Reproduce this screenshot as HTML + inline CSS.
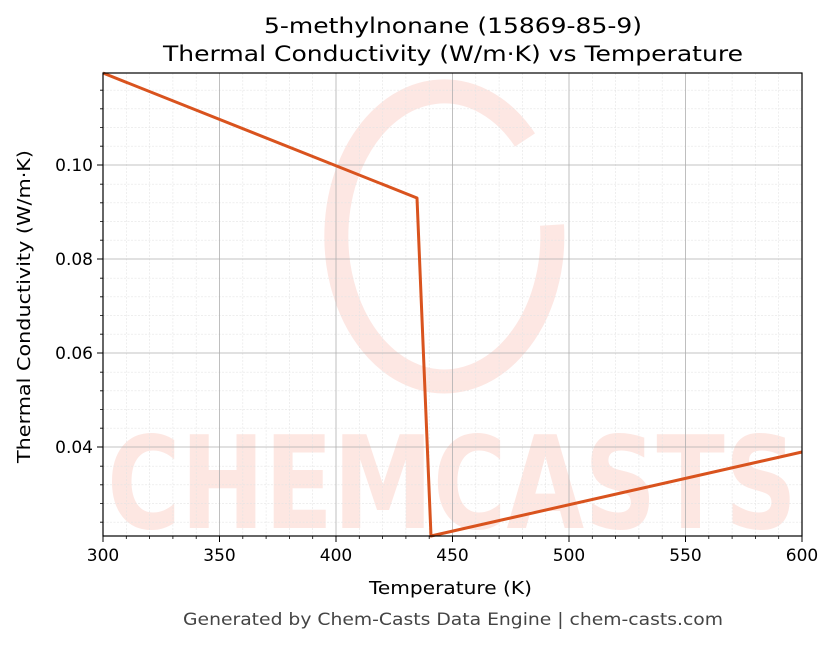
<!DOCTYPE html>
<html><head><style>
body{margin:0;background:#fff;}
svg text{font-family:"DejaVu Sans","Liberation Sans",sans-serif;}
</style></head><body>
<svg width="836" height="644" viewBox="0 0 836 644" xmlns="http://www.w3.org/2000/svg">
<rect width="836" height="644" fill="#fff"/>
<!-- watermark -->
<g opacity="0.85">
<path d="M 525 140 A 108 145 0 1 0 552 225" fill="none" stroke="#fde3de" stroke-width="24"/>
<text x="452" y="528" text-anchor="middle" font-size="128" font-weight="bold" fill="#fde3de" textLength="690" lengthAdjust="spacingAndGlyphs">CHEMCASTS</text>
</g>
<!-- minor grid -->
<g stroke="#e4e4e4" stroke-width="0.6" stroke-dasharray="2 1.5">
<path d="M126.3 73V536M149.6 73V536M172.9 73V536M196.2 73V536M242.8 73V536M266.1 73V536M289.4 73V536M312.7 73V536M359.3 73V536M382.6 73V536M405.9 73V536M429.2 73V536M475.8 73V536M499.1 73V536M522.4 73V536M545.7 73V536M592.3 73V536M615.6 73V536M638.9 73V536M662.2 73V536M708.8 73V536M732.1 73V536M755.4 73V536M778.7 73V536"/>
<path d="M103 90.2H802M103 108.8H802M103 127.6H802M103 146.2H802M103 184.2H802M103 202.8H802M103 221.6H802M103 240.2H802M103 278.2H802M103 296.8H802M103 315.6H802M103 334.2H802M103 372.2H802M103 390.8H802M103 409.6H802M103 428.2H802M103 466.2H802M103 484.8H802M103 503.6H802M103 522.2H802"/>
</g>
<!-- major grid -->
<g stroke="#b0b0b0" stroke-width="0.8">
<path d="M219.5 73V536M336 73V536M452.5 73V536M569 73V536M685.5 73V536"/>
<path d="M103 165H802M103 259H802M103 353H802M103 447H802"/>
</g>
<!-- data -->
<polyline points="103,73 417,198 431,536 802,452" fill="none" stroke="#d9531e" stroke-width="3" stroke-linejoin="round"/>
<!-- axes -->
<rect x="103" y="73" width="699" height="463" fill="none" stroke="#000" stroke-width="1.2"/>
<g stroke="#000" stroke-width="1">
<path d="M103 536v6M219.5 536v6M336 536v6M452.5 536v6M569 536v6M685.5 536v6M802 536v6"/>
<path d="M103 165h-6M103 259h-6M103 353h-6M103 447h-6"/>
</g>
<g stroke="#000" stroke-width="0.8">
<path d="M126.3 536v3M149.6 536v3M172.9 536v3M196.2 536v3M242.8 536v3M266.1 536v3M289.4 536v3M312.7 536v3M359.3 536v3M382.6 536v3M405.9 536v3M429.2 536v3M475.8 536v3M499.1 536v3M522.4 536v3M545.7 536v3M592.3 536v3M615.6 536v3M638.9 536v3M662.2 536v3M708.8 536v3M732.1 536v3M755.4 536v3M778.7 536v3"/>
<path d="M103 90.2h-3M103 108.8h-3M103 127.6h-3M103 146.2h-3M103 184.2h-3M103 202.8h-3M103 221.6h-3M103 240.2h-3M103 278.2h-3M103 296.8h-3M103 315.6h-3M103 334.2h-3M103 372.2h-3M103 390.8h-3M103 409.6h-3M103 428.2h-3M103 466.2h-3M103 484.8h-3M103 503.6h-3M103 522.2h-3"/>
</g>
<g font-size="17" fill="#000" text-anchor="middle">
<text x="103" y="561">300</text><text x="219.5" y="561">350</text><text x="336" y="561">400</text><text x="452.5" y="561">450</text><text x="569" y="561">500</text><text x="685.5" y="561">550</text><text x="802" y="561">600</text>
</g>
<g font-size="17" fill="#000" text-anchor="end">
<text x="93" y="171">0.10</text><text x="93" y="265">0.08</text><text x="93" y="359">0.06</text><text x="93" y="453">0.04</text>
</g>
<text x="369" y="594" font-size="18" textLength="163" lengthAdjust="spacingAndGlyphs">Temperature (K)</text>
<text transform="translate(30 463) rotate(-90)" font-size="18" textLength="313" lengthAdjust="spacingAndGlyphs">Thermal Conductivity (W/m·K)</text>
<text x="264" y="33" font-size="21.5" textLength="378" lengthAdjust="spacingAndGlyphs">5-methylnonane (15869-85-9)</text>
<text x="163" y="61" font-size="21.5" textLength="580" lengthAdjust="spacingAndGlyphs">Thermal Conductivity (W/m·K) vs Temperature</text>
<text x="183" y="625" font-size="17" fill="#444" textLength="540" lengthAdjust="spacingAndGlyphs">Generated by Chem-Casts Data Engine | chem-casts.com</text>
</svg>
</body></html>
